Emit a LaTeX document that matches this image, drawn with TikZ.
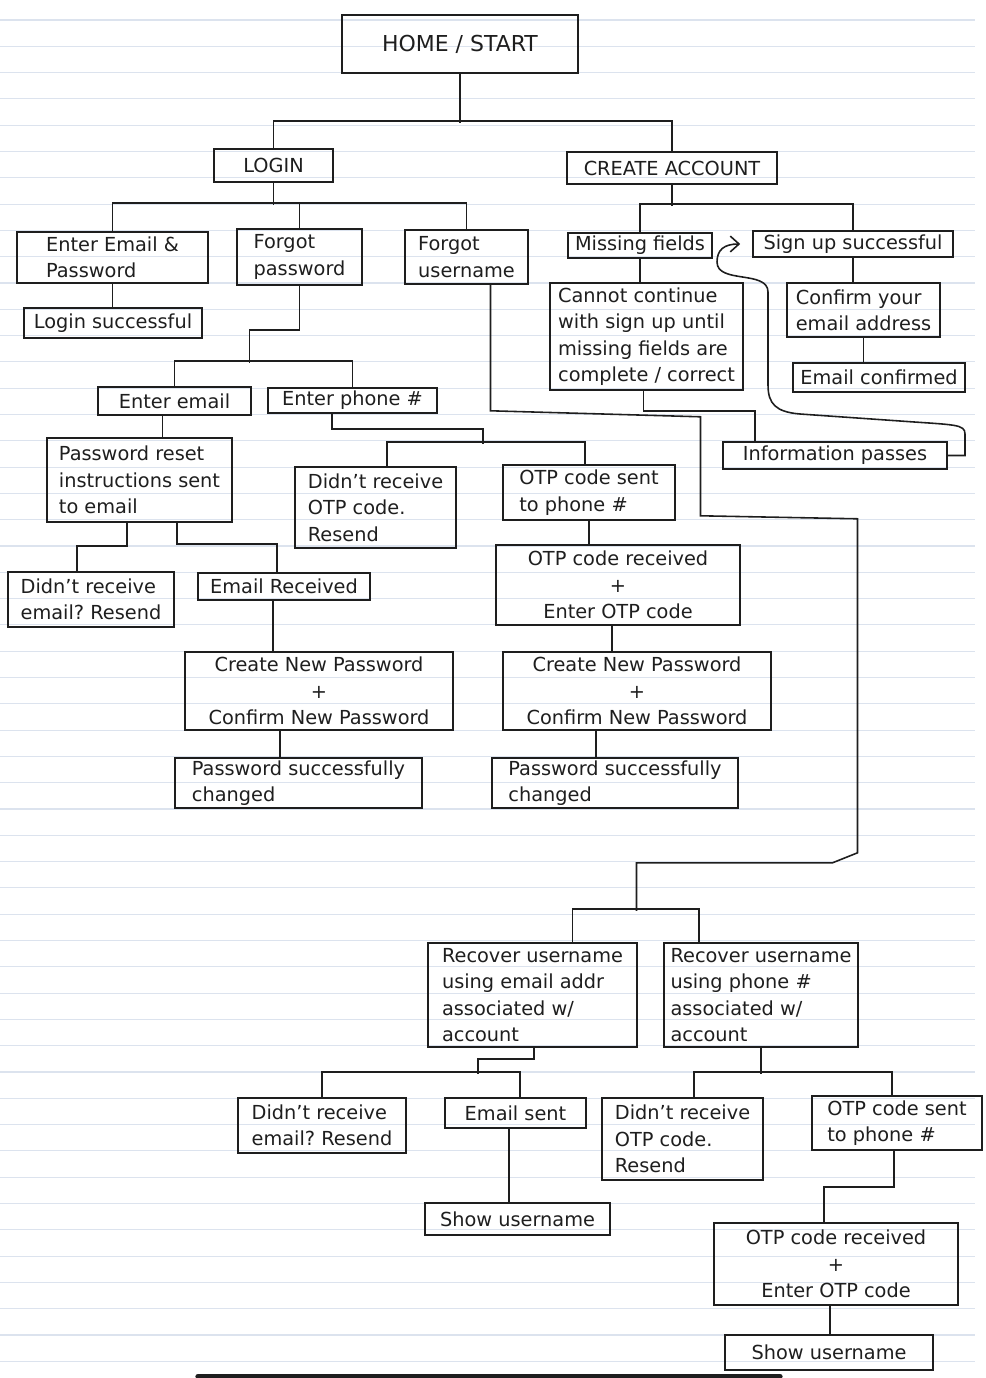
\documentclass[tikz,border=0pt]{standalone}
\usepackage{fontspec}
\setmainfont{DejaVu Sans}
\usetikzlibrary{calc}
\usetikzlibrary{arrows.meta}
\definecolor{ink}{HTML}{1E1E1E}
\definecolor{ruling}{HTML}{DCE3EE}
\frenchspacing

\begin{document}
\begin{tikzpicture}[
    x = 0.02cm, y = -0.02cm,
    box/.style = {
      draw = ink, line width = 0.9pt, text = ink,
      inner sep = 1pt, align = left,
      font = \fontsize{11}{15}\selectfont,
    },
    sz/.style 2 args = {minimum width = #1*0.02cm, minimum height = #2*0.02cm},
  ]
        \useasboundingbox (0,0) rectangle (986,1378);

        % ruled paper
        \foreach \k in {0,...,51}
          \draw[ruling, line width = 0.6pt] (0,{20+26.3*\k}) -- (975,{20+26.3*\k});
        \draw[ink, line width = 3pt, line cap = round] (198,1376.5) -- (780,1376.5);

        % top levels
        \node[box, sz={236}{58}, font=\fontsize{12.5}{15}\selectfont] (home) at (460,44) {HOME / START};
        \node[box, sz={119}{33}] (login)  at (273.5,165.5) {LOGIN};
        \node[box, sz={210}{32}] (create) at (672,168)     {CREATE ACCOUNT};

        \node[box, sz={191}{51}] (enterpw)  at (112.5,257.5) {Enter Email \&\\Password};
        \node[box, sz={125}{56}] (forgotpw) at (299.5,257)   {Forgot\\password};
        \node[box, sz={123}{54}] (forgotun) at (466.5,257)   {Forgot\\username};
        \node[box, sz={144}{25}] (missing)  at (640,245.5)   {Missing fields};
        \node[box, sz={200}{26}] (signup)   at (853,244)     {Sign up successful};

        \node[box, sz={178}{30}]  (loginok)   at (113,323)     {Login successful};
        \node[box, sz={193}{107}] (cannot)    at (646.5,336.5) {Cannot continue\\with sign up until\\missing fields are\\complete / correct};
        \node[box, sz={153}{54}]  (confirm)   at (863.5,310)   {Confirm your\\email address};
        \node[box, sz={172}{29}]  (emailconf) at (879,377.5)   {Email confirmed};
        \node[box, sz={224}{27}]  (info)      at (835,455.5)   {Information passes};

        % forgot password
        \node[box, sz={153}{28}] (entermail)  at (174.5,401)   {Enter email};
        \node[box, sz={169}{25}] (enterphone) at (352.5,400.5) {Enter phone \#};
        \node[box, sz={185}{84}] (resetsent)  at (139.5,480)   {Password reset\\instructions sent\\to email};
        \node[box, sz={161}{81}] (nootpa)     at (375.5,507.5) {Didn't receive\\OTP code.\\Resend};
        \node[box, sz={172}{55}] (otpsenta)   at (589,492.5)   {OTP code sent\\to phone \#};
        \node[box, sz={166}{55}] (noemaila)   at (91,599.5)    {Didn't receive\\email? Resend};
        \node[box, sz={172}{27}] (emailrec)   at (284,586.5)   {Email Received};
        \node[box, sz={244}{80}, align=center] (otpreca) at (618,585) {OTP code received\\+\\Enter OTP code};
        \node[box, sz={268}{78}, align=center] (newpwa)  at (319,691) {Create New Password\\+\\Confirm New Password};
        \node[box, sz={268}{78}, align=center] (newpwb)  at (637,691) {Create New Password\\+\\Confirm New Password};
        \node[box, sz={247}{50}] (pwoka) at (298.5,783) {Password successfully\\changed};
        \node[box, sz={246}{50}] (pwokb) at (615,783)   {Password successfully\\changed};

        % forgot username
        \node[box, sz={209}{104}] (recmail)  at (532.5,995) {Recover username\\using email addr\\associated w/\\account};
        \node[box, sz={194}{104}] (recphone) at (761,995)   {Recover username\\using phone \#\\associated w/\\account};
        \node[box, sz={168}{55}] (noemailb)  at (322,1125.5) {Didn't receive\\email? Resend};
        \node[box, sz={141}{30}] (emailsent) at (515.5,1113) {Email sent};
        \node[box, sz={161}{82}] (nootpb)    at (682.5,1139) {Didn't receive\\OTP code.\\Resend};
        \node[box, sz={170}{54}] (otpsentb)  at (897,1123)   {OTP code sent\\to phone \#};
        \node[box, sz={185}{32}] (showuna)   at (517.5,1219) {Show username};
        \node[box, sz={244}{82}, align=center] (otprecb) at (836,1264) {OTP code received\\+\\Enter OTP code};
        \node[box, sz={208}{35}] (showunb)   at (829,1352.5) {Show username};

        \begin{scope}[ink, line width = 0.9pt]
          \draw (home.south) -- ++(0,49);
          \draw (login.north) -- ++(0,-27) -| (create.north);

          \draw (login.south) -- ++(0,22);
          \draw (enterpw.north) -- ++(0,-28) -| (forgotun.north);
          \draw (forgotpw.north) -- ++(0,-25);
          \draw (create.south) -- ++(0,21);
          \draw (missing.north) -- ++(0,-28) -| (signup.north);

          \draw (enterpw.south) -- (enterpw.south |- loginok.north);
          \draw (missing.south) -- (missing.south |- cannot.north);
          \draw (signup.south) -- (signup.south |- confirm.north);
          \draw (confirm.south) -- (confirm.south |- emailconf.north);
          \draw (cannot.south) ++(-3,0) -- ++(0,20) -| ($(info.north)+(-80,0)$);
          \draw[-{Straight Barb[length=5pt, width=9pt]}]
            (info.east) -- (965,455.5) -- (965,434)
            .. controls (965,424) and (955,425) .. (900,421) -- (800,414)
            .. controls (776,412) and (768,404) .. (768,385) -- (768,292)
            .. controls (768,270) and (717,284) .. (717,262)
            .. controls (717,250) and (724,244) .. ($(signup.west)+(-12,0)$);

          % forgot password branch
          \draw (forgotpw.south) |- ++(-50,44) -- ++(0,33);
          \draw (entermail.north) -- ++(0,-25) -| (enterphone.north);
          \draw (entermail.south) ++(-12,0) -- ++(0,23);
          \draw (resetsent.south) ++(-12.5,0) -- ++(0,23) -| ($(noemaila.north)+(-14,0)$);
          \draw (resetsent.south) ++(37.5,0) -- ++(0,21) -| ($(emailrec.north)+(-7,0)$);
          \draw (emailrec.south) ++(-11,0) -- ++(0,52);
          \draw (newpwa.south) ++(-39,0) -- ++(0,28);

          \draw (enterphone.south) ++(-20.5,0) -- ++(0,15) -| ++(151,15);
          \draw ($(nootpa.north)+(11.5,0)$) -- ++(0,-24) -| ($(otpsenta.north)+(-4,0)$);
          \draw (otpsenta.south) -- (otpsenta.south |- otpreca.north);
          \draw (otpreca.south) ++(-6,0) -- ++(0,27);
          \draw (newpwb.south) ++(-41,0) -- ++(0,28);

          % forgot username branch
          \draw (forgotun.south) ++(24,0) -- ++(0,126) -- ++(210,6) -- ++(0,99)
            -- ++(157,3) -- ++(0,334) -- ++(-25,10) -| ++(-196,48);
          \draw ($(recmail.north)+(40,0)$) -- ++(0,-33) -| ($(recphone.north)+(-62,0)$);

          \draw (recmail.south) ++(1.5,0) -- ++(0,11) -| ++(-56,15);
          \draw (noemailb.north) -- ++(0,-25) -| ($(emailsent.north)+(4.5,0)$);
          \draw (emailsent.south) ++(-6.5,0) -- ++(0,75);

          \draw (recphone.south) -- ++(0,26);
          \draw ($(nootpb.north)+(11.5,0)$) -- ++(0,-25) -| ($(otpsentb.north)+(-5,0)$);
          \draw (otpsentb.south) ++(-3,0) -- ++(0,36) -| ($(otprecb.north)+(-12,0)$);
          \draw (otprecb.south) ++(-6,0) -- ++(0,30);
        \end{scope}

      \end{tikzpicture}
\end{document}
